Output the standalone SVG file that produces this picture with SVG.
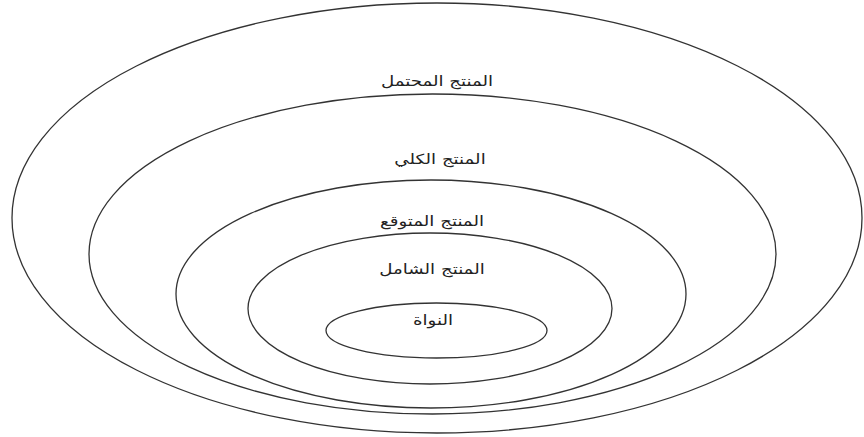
<svg xmlns="http://www.w3.org/2000/svg" width="864" height="437" viewBox="0 0 864 437">
<style>
.ring{fill:none;stroke:#333;stroke-width:1.3}
.lbl{font-family:"DejaVu Sans","Noto Sans",sans-serif;font-size:14px;fill:#222;text-anchor:middle}
</style>
<rect width="864" height="437" fill="#fff"/>
<g id="potential"><ellipse class="ring" cx="437" cy="218" rx="425" ry="215"/><text class="lbl" transform="translate(437 86) scale(1.3 1)">المنتج المحتمل</text></g>
<g id="augmented"><ellipse class="ring" cx="432.5" cy="254" rx="343.5" ry="160"/><text class="lbl" transform="translate(440 164) scale(1.3 1)">المنتج الكلي</text></g>
<g id="expected"><ellipse class="ring" cx="431" cy="294" rx="255" ry="114"/><text class="lbl" transform="translate(432 226) scale(1.3 1)">المنتج المتوقع</text></g>
<g id="generic"><ellipse class="ring" cx="430" cy="308.5" rx="182" ry="75.5"/><text class="lbl" transform="translate(432 274) scale(1.3 1)">المنتج الشامل</text></g>
<g id="core"><ellipse class="ring" cx="436.5" cy="330.5" rx="110.5" ry="27.5"/><text class="lbl" transform="translate(433 325) scale(1.3 1)">النواة</text></g>
<g id="connectors"/>
</svg>
